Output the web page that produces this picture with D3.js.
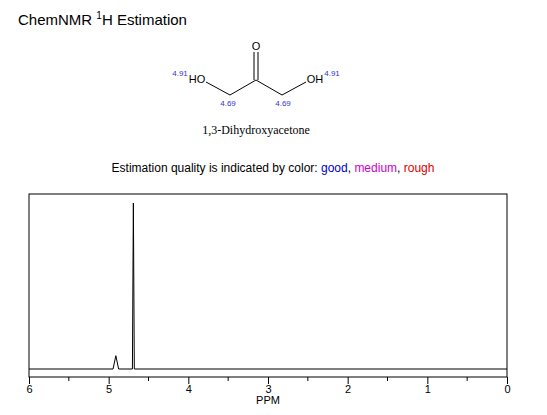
<!DOCTYPE html>
<html><head><meta charset="utf-8">
<script src="https://cdn.jsdelivr.net/npm/d3@7"></script>
<style>body{margin:0;background:#fff}</style>
</head><body>
<script>
// peak data
var peakShifts = [4.91, 4.69];
var peakHeights = [0.08, 1.0];
var peakWidths = [0.035, 0.012];
var ticks = [6, 5, 4, 3, 2, 1, 0];
var minorTicks = [5.5, 4.5, 3.5, 2.5, 1.5, 0.5];

var svg = d3.select("body").append("svg").attr("width", 547).attr("height", 415)
    .style("font-family", "Liberation Sans, Arial, sans-serif");

svg.append("text").attr("x", 18).attr("y", 25).attr("font-size", 15).text("ChemNMR ")
    .append("tspan").attr("font-size", 10).attr("dy", -6).text("1")
    .select(function(){ return this.parentNode; })
    .append("tspan").attr("dy", 6).text("H Estimation");

// molecule
var mol = svg.append("g").attr("stroke", "#000").attr("stroke-width", 1).attr("fill", "none");
mol.append("line").attr("x1", 206).attr("y1", 82).attr("x2", 230).attr("y2", 95);
mol.append("line").attr("x1", 230).attr("y1", 95).attr("x2", 256).attr("y2", 80);
mol.append("line").attr("x1", 256).attr("y1", 80).attr("x2", 282).attr("y2", 95);
mol.append("line").attr("x1", 282).attr("y1", 95).attr("x2", 306).attr("y2", 82);
mol.append("line").attr("x1", 254).attr("y1", 80).attr("x2", 254).attr("y2", 52);
mol.append("line").attr("x1", 258).attr("y1", 80).attr("x2", 258).attr("y2", 52);
svg.append("text").attr("x", 256).attr("y", 50).attr("text-anchor", "middle").attr("font-size", 11).text("O");
svg.append("text").attr("x", 197).attr("y", 83).attr("text-anchor", "middle").attr("font-size", 11).text("HO");
svg.append("text").attr("x", 315).attr("y", 83).attr("text-anchor", "middle").attr("font-size", 11).text("OH");
var shiftLabels = [[180, 76, "4.91"], [332, 76, "4.91"], [228, 106, "4.69"], [283, 106, "4.69"]];
svg.selectAll(".sl").data(shiftLabels).enter().append("text")
    .attr("x", d => d[0]).attr("y", d => d[1]).attr("text-anchor", "middle")
    .attr("font-size", 8).attr("fill", "#3333cc").text(d => d[2]);
svg.append("text").attr("x", 256).attr("y", 134).attr("text-anchor", "middle")
    .attr("font-family", "Liberation Serif, serif").attr("font-size", 12).text("1,3-Dihydroxyacetone");

var q = svg.append("text").attr("x", 273).attr("y", 172).attr("text-anchor", "middle").attr("font-size", 12);
q.append("tspan").text("Estimation quality is indicated by color: ");
q.append("tspan").attr("fill", "#0000cc").text("good");
q.append("tspan").text(", ");
q.append("tspan").attr("fill", "#cc00cc").text("medium");
q.append("tspan").text(", ");
q.append("tspan").attr("fill", "#dd0000").text("rough");

// spectrum
var x = d3.scaleLinear().domain([6, 0]).range([29, 507]);
var y = d3.scaleLinear().domain([0, 1]).range([369, 203]);

svg.append("rect").attr("x", 29).attr("y", 194).attr("width", 478).attr("height", 183)
    .attr("fill", "none").attr("stroke", "#000");

var pts = [[6, 0]];
peakShifts.forEach(function(p, i) {
    pts.push([p + peakWidths[i], 0], [p, peakHeights[i]], [p - peakWidths[i], 0]);
});
pts.push([0, 0]);
pts.sort((a, b) => b[0] - a[0]);
svg.append("path").attr("d", d3.line().x(d => x(d[0])).y(d => y(d[1]))(pts))
    .attr("fill", "none").attr("stroke", "#000").attr("stroke-width", 1);

var axis = svg.append("g").attr("transform", "translate(0,377)")
    .call(d3.axisBottom(x).tickValues(ticks).tickSize(7).tickFormat(d3.format("d")));
axis.select(".domain").remove();
axis.selectAll("text").attr("font-size", 11).attr("dy", "0.5em").attr("font-family", "Liberation Sans, Arial, sans-serif");
svg.append("g").selectAll("line").data(minorTicks).enter().append("line")
    .attr("x1", d => x(d)).attr("x2", d => x(d)).attr("y1", 377).attr("y2", 381).attr("stroke", "#000");
svg.append("text").attr("x", 268).attr("y", 404).attr("text-anchor", "middle").attr("font-size", 11).text("PPM");
</script>
</body></html>
